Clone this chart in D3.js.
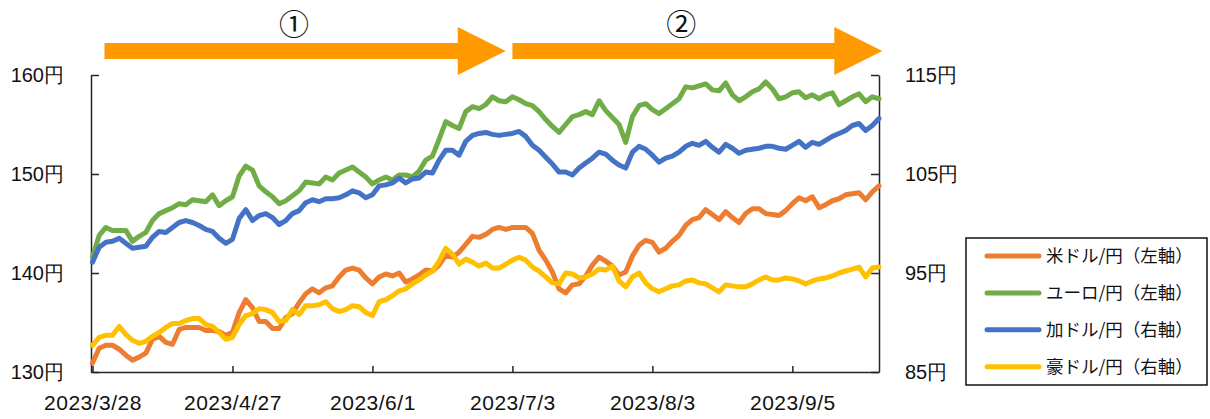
<!DOCTYPE html>
<html>
<head>
<meta charset="utf-8">
<script src="https://cdn.jsdelivr.net/npm/d3@7"></script>
<style>
  body { margin: 0; background: #fff; }
  svg { display: block; font-family: "Noto Sans CJK JP", "Noto Sans", sans-serif; }
  .axis path, .axis line { stroke: #262626; stroke-width: 1.5; }
  .axis text { fill: #111; font-size: 20px; }
  .axis.x text { font-size: 21px; letter-spacing: 0.5px; }
</style>
</head>
<body>
<div id="chart"></div>
<script>
const width = 1210;
const height = 419;

// x-axis labels (every 21st trading day)
const xLabels = ["2023/3/28", "2023/4/27", "2023/6/1", "2023/7/3", "2023/8/3", "2023/9/5"];
const xTickIdx = [0, 21, 42, 63, 84, 105];

const leftTicks = [130, 140, 150, 160];
const rightTicks = [85, 95, 105, 115];

// 米ドル/円 (left axis)
const usd = [
  130.9, 132.4, 132.7, 132.7, 132.3, 131.7, 131.2, 131.5, 131.9, 133.3,
  133.6, 133.0, 132.8, 134.3, 134.5, 134.5, 134.5, 134.2, 134.2, 134.1,
  133.7, 134.0, 136.0, 137.3, 136.5, 135.1, 135.1, 134.4, 134.4, 135.5,
  135.9, 137.0, 137.9, 138.4, 138.0, 138.5, 138.7, 139.6, 140.3, 140.5,
  140.3, 139.5, 138.9, 139.6, 139.9, 139.7, 140.0, 139.1, 139.4, 139.8,
  140.3, 140.2, 140.8, 141.8, 141.6, 142.1, 142.9, 143.7, 143.6, 143.9,
  144.4, 144.6, 144.4, 144.6, 144.6, 144.6, 144.0, 142.3, 141.3, 140.1,
  138.4, 138.0, 138.8, 138.9, 139.7, 140.8, 141.6, 141.2, 140.7, 139.8,
  140.1, 141.7, 142.8, 143.3, 143.1, 142.1, 142.5, 143.2, 143.8, 144.8,
  145.4, 145.6, 146.4, 145.9, 145.4, 146.2, 145.6, 145.1, 146.0, 146.5,
  146.5, 146.0, 145.9, 145.8, 146.3, 147.0, 147.6, 147.3, 147.7, 146.6,
  146.9, 147.3, 147.5, 147.9, 148.0, 148.1, 147.4, 148.2, 148.8
];

// ユーロ/円 (left axis)
const eur = [
  141.6, 143.8, 144.6, 144.3, 144.3, 144.3, 143.2, 143.7, 144.1, 145.3,
  146.0, 146.3, 146.6, 147.0, 146.9, 147.4, 147.3, 147.2, 147.9, 146.8,
  147.3, 147.7, 149.8, 150.8, 150.4, 148.8, 148.2, 147.7, 147.0, 147.3,
  147.8, 148.3, 149.2, 149.1, 149.0, 149.7, 149.4, 150.1, 150.4, 150.7,
  150.2, 149.7, 149.0, 149.4, 149.7, 149.4, 149.9, 149.9, 149.7, 150.3,
  151.4, 151.8, 153.5, 155.3, 154.9, 154.6, 156.3, 156.8, 156.6, 157.0,
  157.8, 157.4, 157.3, 157.8, 157.5, 157.1, 156.9, 156.3, 155.5, 154.8,
  154.2, 155.0, 155.8, 156.0, 156.3, 156.0, 157.4, 156.4, 155.7, 155.0,
  153.2, 155.8, 156.9, 157.1, 156.5, 156.1, 156.6, 157.1, 157.6, 158.8,
  158.7, 158.9, 159.1, 158.5, 158.4, 159.2, 158.0, 157.4, 157.8, 158.3,
  158.6, 159.3, 158.6, 157.6, 157.8, 158.2, 158.3, 157.7, 158.0, 157.6,
  158.0, 158.2, 157.0, 157.4, 157.8, 158.1, 157.3, 157.8, 157.6
];

// 加ドル/円 (right axis)
const cad = [
  96.1, 97.6, 98.1, 98.2, 98.5, 98.0, 97.5, 97.6, 97.7, 98.6,
  99.2, 99.1, 99.6, 100.1, 100.3, 100.1, 99.8, 99.4, 99.2, 98.5,
  98.0, 98.4, 100.5, 101.4, 100.3, 100.8, 101.0, 100.6, 99.9, 100.3,
  101.0, 101.3, 102.1, 102.4, 102.2, 102.5, 102.5, 102.6, 102.9, 103.3,
  103.1, 102.6, 102.9, 103.8, 103.9, 104.1, 104.6, 104.1, 104.5, 104.6,
  105.2, 105.1, 106.4, 107.4, 107.4, 106.9, 108.3, 108.9, 109.1, 109.2,
  109.0, 108.9, 109.0, 109.1, 109.3, 108.8, 107.9, 107.4, 106.7, 106.0,
  105.2, 105.2, 104.9, 105.6, 106.1, 106.6, 107.2, 107.0, 106.4, 105.9,
  105.6, 107.2, 107.8, 107.5, 106.9, 106.2, 106.6, 106.8, 107.2, 107.8,
  108.1, 107.9, 108.3, 107.7, 107.2, 108.0, 107.6, 107.1, 107.4, 107.5,
  107.6, 107.8, 107.8, 107.6, 107.5, 107.9, 108.3, 107.7, 108.2, 108.0,
  108.4, 108.8, 109.1, 109.4, 109.9, 110.1, 109.4, 109.9, 110.6
];

// 豪ドル/円 (right axis)
const aud = [
  87.7, 88.5, 88.7, 88.7, 89.6, 88.8, 88.2, 87.9, 88.1, 88.6,
  89.0, 89.5, 89.9, 89.9, 90.2, 90.4, 90.4, 89.8, 89.6, 89.0,
  88.3, 88.5, 89.8, 90.7, 90.9, 91.4, 91.3, 91.0, 90.1, 90.2,
  91.3, 90.8, 91.7, 91.7, 91.8, 92.1, 91.4, 91.1, 91.3, 91.7,
  91.6, 91.0, 90.7, 92.1, 92.3, 92.7, 93.2, 93.4, 93.9, 94.3,
  94.8, 95.2, 96.2, 97.5, 96.9, 95.9, 96.4, 96.1, 95.7, 96.0,
  95.5, 95.5, 95.9, 96.3, 96.6, 96.3, 95.6, 95.2, 94.6, 94.0,
  93.9, 95.0, 94.9, 94.5, 94.6, 94.9, 95.4, 95.3, 95.7, 94.2,
  93.6, 94.6, 95.0, 94.0, 93.4, 93.1, 93.4, 93.7, 93.8, 94.2,
  94.3, 94.0, 93.9, 93.5, 93.1, 93.8, 93.7, 93.6, 93.6, 93.9,
  94.3, 94.6, 94.3, 94.3, 94.5, 94.4, 94.2, 93.9, 94.2, 94.4,
  94.5, 94.7, 95.0, 95.2, 95.4, 95.6, 94.6, 95.5, 95.6
];

const seriesNames = ["米ドル/円（左軸）", "ユーロ/円（左軸）", "加ドル/円（右軸）", "豪ドル/円（右軸）"];
const seriesColors = ["#ED7D31", "#70AD47", "#4472C4", "#FFC000"];

// period arrows: [start index, tip index]
const periodLabels = ["①", "②"];
const periods = [[1.8, 62], [63, 118.5]];
const labelShift = [13, 8];

const plot = { left: 91, right: 879, top: 75, bottom: 372 };

const svg = d3.select("#chart")
  .append("svg")
  .attr("width", width)
  .attr("height", height);

const x = d3.scaleLinear()
  .domain([0, usd.length - 1])
  .range([plot.left + 1.5, plot.right]);

const yLeft = d3.scaleLinear().domain([130, 160]).range([plot.bottom, plot.top]);
const yRight = d3.scaleLinear().domain([85, 115]).range([plot.bottom, plot.top]);

// axes
svg.append("g")
  .attr("class", "axis")
  .attr("transform", `translate(${plot.left},0)`)
  .call(d3.axisLeft(yLeft).tickValues(leftTicks).tickSize(-8).tickSizeOuter(0)
    .tickPadding(27).tickFormat((d) => d + "円"));

svg.append("g")
  .attr("class", "axis")
  .attr("transform", `translate(${plot.right},0)`)
  .call(d3.axisRight(yRight).tickValues(rightTicks).tickSize(-8).tickSizeOuter(0)
    .tickPadding(26).tickFormat((d) => d + "円"));

svg.append("g")
  .attr("class", "axis x")
  .attr("transform", `translate(0,${plot.bottom})`)
  .call(d3.axisBottom(x).tickValues(xTickIdx).tickSize(-6).tickSizeOuter(0)
    .tickPadding(23).tickFormat((d, i) => xLabels[i]));

// lines
const series = [
  { values: usd, y: yLeft },
  { values: eur, y: yLeft },
  { values: cad, y: yRight },
  { values: aud, y: yRight }
];

series.forEach((s, k) => {
  const line = d3.line()
    .x((d, i) => x(i))
    .y((d) => s.y(d));
  svg.append("path")
    .datum(s.values)
    .attr("fill", "none")
    .attr("stroke", seriesColors[k])
    .attr("stroke-width", 5)
    .attr("stroke-linejoin", "round")
    .attr("stroke-linecap", "round")
    .attr("d", line);
});

// arrows on top
const arrowColor = "#FF9900";
periods.forEach(([a, b], k) => {
  const x0 = x(a), x1 = x(b);
  const head = 48;
  const pts = [
    [x0, 43], [x1 - head, 43], [x1 - head, 27], [x1, 51],
    [x1 - head, 75], [x1 - head, 59], [x0, 59]
  ];
  svg.append("polygon")
    .attr("points", pts.map((p) => p.join(",")).join(" "))
    .attr("fill", arrowColor);
  svg.append("text")
    .attr("x", (x0 + x1 - head) / 2 + labelShift[k])
    .attr("y", 35)
    .attr("text-anchor", "middle")
    .attr("font-size", 30)
    .attr("fill", "#111")
    .text(periodLabels[k]);
});

// legend
const legend = svg.append("g").attr("transform", "translate(966,238)");
legend.append("rect")
  .attr("width", 241)
  .attr("height", 147)
  .attr("fill", "#fff")
  .attr("stroke", "#111")
  .attr("stroke-width", 1.5);

const item = legend.selectAll("g.item")
  .data(seriesNames)
  .join("g")
  .attr("class", "item")
  .attr("transform", (d, i) => `translate(0,${18 + i * 36.9})`);

item.append("line")
  .attr("x1", 21).attr("x2", 73)
  .attr("stroke", (d, i) => seriesColors[i])
  .attr("stroke-width", 5)
  .attr("stroke-linecap", "round");

item.append("text")
  .attr("x", 80)
  .attr("dy", "0.35em")
  .attr("font-size", 17.5)
  .attr("fill", "#111")
  .text((d) => d);
</script>
</body>
</html>
